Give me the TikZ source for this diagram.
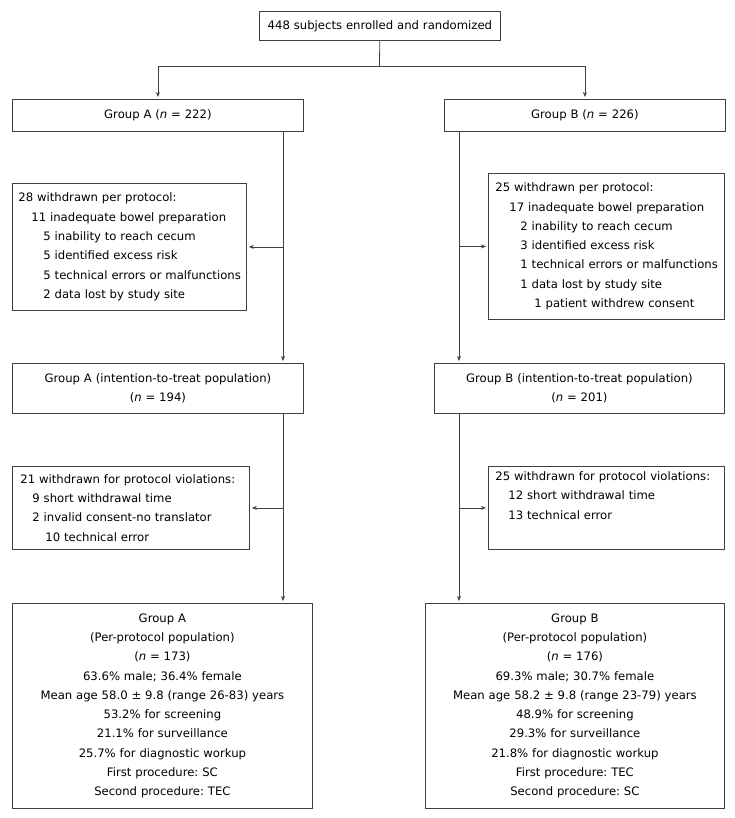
\documentclass[tikz,border=0pt]{standalone}
\usepackage{fontspec}
\setmainfont{DejaVu Sans}
\usetikzlibrary{arrows.meta}
\frenchspacing

\tikzset{
  box/.style={draw=black!75, line width=0.8pt, inner xsep=0pt, inner ysep=0pt,
    anchor=north west, font=\fontsize{11.65}{19.3}\selectfont},
  mid/.style={box, align=center},
  lst/.style={box, align=left},
  ln/.style={draw=black!75, line width=0.8pt},
  arr/.style={ln, -{Stealth[length=5pt,width=4pt]}, shorten >=2pt},
}
\newcommand{\ind}[1]{\hspace*{#1pt}}

\begin{document}
\begin{tikzpicture}[x=1pt,y=-1pt]
\useasboundingbox (0,0) rectangle (734,818);

\node[mid, text width=241pt, minimum height=29pt] (enrol) at (259,11)
  {448 subjects enrolled and randomized};
\node[mid, text width=291pt, minimum height=32pt] (grpa) at (12,99)
  {Group A (\textit{n} = 222)};
\node[mid, text width=281pt, minimum height=32pt] (grpb) at (444,99)
  {Group B (\textit{n} = 226)};

\node[lst, text width=234pt, minimum height=127pt] (wda) at (12,183)
  {\ind{6}28 withdrawn per protocol:\\
   \ind{19}11 inadequate bowel preparation\\
   \ind{31}5 inability to reach cecum\\
   \ind{31}5 identified excess risk\\
   \ind{31}5 technical errors or malfunctions\\
   \ind{31}2 data lost by study site};
\node[lst, text width=236pt, minimum height=146pt] (wdb) at (488,173)
  {\ind{7}25 withdrawn per protocol:\\
   \ind{21}17 inadequate bowel preparation\\
   \ind{32}2 inability to reach cecum\\
   \ind{32}3 identified excess risk\\
   \ind{32}1 technical errors or malfunctions\\
   \ind{32}1 data lost by study site\\
   \ind{46}1 patient withdrew consent};

\node[mid, text width=291pt, minimum height=50pt] (itta) at (12,363)
  {Group A (intention-to-treat population)\\(\textit{n} = 194)};
\node[mid, text width=290pt, minimum height=50pt] (ittb) at (434,363)
  {Group B (intention-to-treat population)\\(\textit{n} = 201)};

\node[lst, text width=237pt, minimum height=83pt] (wdva) at (12,466)
  {\ind{8}21 withdrawn for protocol violations:\\
   \ind{20}9 short withdrawal time\\
   \ind{20}2 invalid consent-no translator\\
   \ind{33}10 technical error};
\node[lst, text width=236pt, minimum height=83pt] (wdvb) at (488,466)
  {\ind{7}25 withdrawn for protocol violations:\\
   \ind{20}12 short withdrawal time\\
   \ind{20}13 technical error\\
   \strut};

\node[mid, text width=300pt, minimum height=205pt] (ppa) at (12,603)
  {Group A\\(Per-protocol population)\\(\textit{n} = 173)\\
   63.6\% male; 36.4\% female\\
   Mean age 58.0 ± 9.8 (range 26-83) years\\
   53.2\% for screening\\21.1\% for surveillance\\
   25.7\% for diagnostic workup\\
   First procedure: SC\\Second procedure: TEC};
\node[mid, text width=299pt, minimum height=205pt] (ppb) at (425,603)
  {Group B\\(Per-protocol population)\\(\textit{n} = 176)\\
   69.3\% male; 30.7\% female\\
   Mean age 58.2 ± 9.8 (range 23-79) years\\
   48.9\% for screening\\29.3\% for surveillance\\
   21.8\% for diagnostic workup\\
   First procedure: TEC\\Second procedure: SC};

\coordinate (split) at (379.5,66);
\coordinate (lineA) at (283,0);
\coordinate (lineB) at (459,0);

\draw[ln] (enrol) -- (split);
\draw[arr] (split) -| (grpa);
\draw[arr] (split) -| (grpb);

\draw[arr] (grpa.south -| lineA) -- (itta.north -| lineA);
\draw[arr] (lineA |- wda.east) -- (wda);
\draw[arr] (itta.south -| lineA) -- (ppa.north -| lineA);
\draw[arr] (lineA |- wdva.east) -- (wdva);

\draw[arr] (grpb.south -| lineB) -- (ittb.north -| lineB);
\draw[arr] (lineB |- wdb.west) -- (wdb);
\draw[arr] (ittb.south -| lineB) -- (ppb.north -| lineB);
\draw[arr] (lineB |- wdvb.west) -- (wdvb);
\end{tikzpicture}
\end{document}
